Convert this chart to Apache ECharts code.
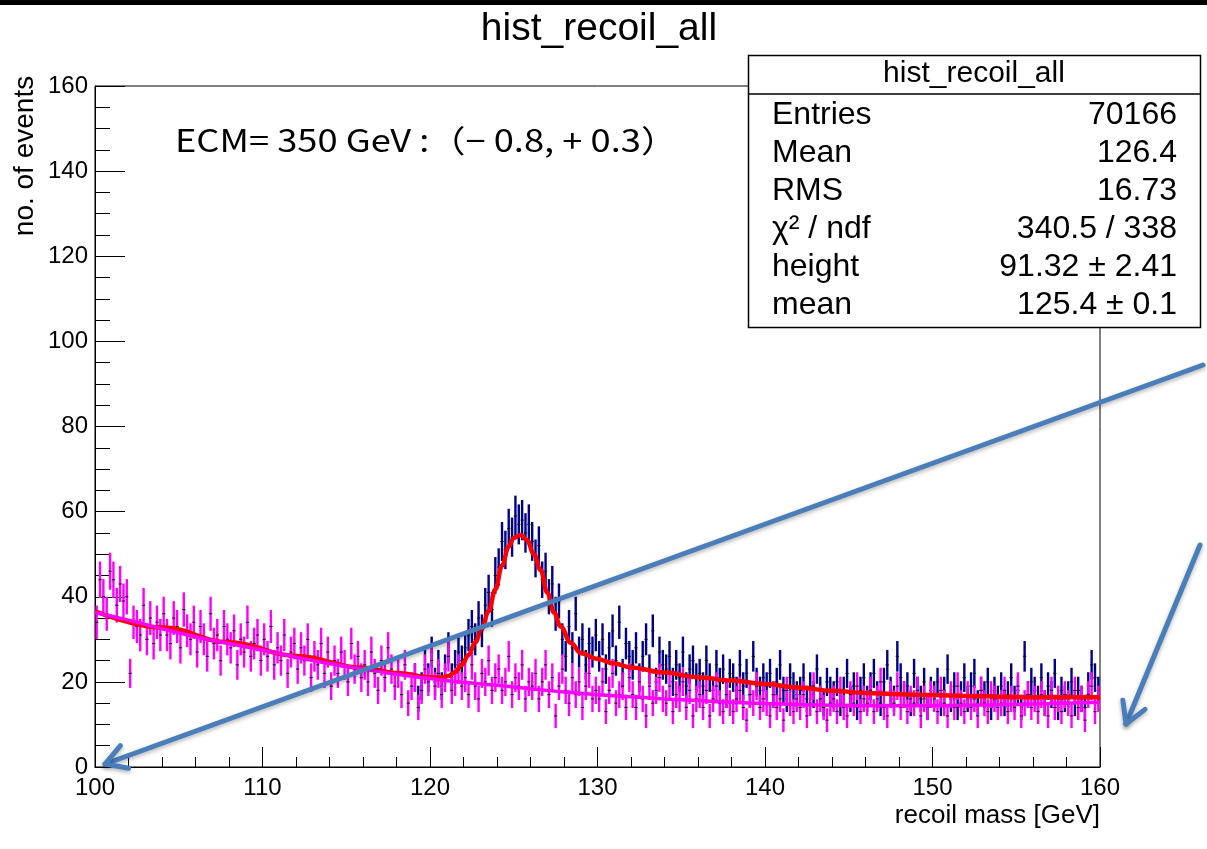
<!DOCTYPE html>
<html>
<head>
<meta charset="utf-8">
<style>html,body{margin:0;padding:0;background:#fff;}#chart{width:1207px;height:849px;}</style>
<script src="https://cdn.jsdelivr.net/npm/echarts@6/dist/echarts.min.js"></script>
</head>
<body>
<div id="chart"></div>
<script>
// ---- data ----
const binWidth = 0.2;
const magentaStart = 100.0;   // background-only histogram (magenta)
const magentaCounts = [
  34,44,40,36,46,44,38,43,39,40,
  22,34,33,31,38,30,35,29,34,31,
  36,31,29,35,33,28,37,32,30,34,
  27,33,30,26,36,29,31,25,33,30,
  28,32,24,30,27,34,26,29,31,25,
  30,26,33,24,28,25,31,22,27,29,
  23,28,25,30,21,26,24,29,22,27,
  19,25,22,27,24,20,29,23,26,21,
  24,20,27,22,18,25,21,28,23,19,
  22,17,24,15,19,21,14,18,23,20,
  25,19,22,17,21,26,18,20,23,19,
  21,17,24,19,16,22,20,25,18,21,
  23,18,20,26,17,21,19,24,16,20,
  19,22,16,20,24,17,21,12,19,23,
  18,15,21,17,20,14,19,22,16,18,
  16,20,13,18,22,15,17,19,14,21,
  17,14,20,16,12,19,15,18,21,16,
  15,19,13,17,16,20,14,18,12,16,
  17,14,18,12,16,19,15,13,17,15,
  13,16,18,14,11,17,15,19,14,16,
  15,12,17,14,16,11,18,15,13,16,
  14,17,12,15,19,13,16,14,11,15,
  16,13,18,14,12,17,15,19,13,16,
  15,18,13,16,20,14,12,17,15,19,
  14,17,13,16,15,18,12,16,14,17,
  16,13,18,15,12,17,14,19,15,13,
  17,14,16,12,18,15,13,17,16,14,
  15,18,13,16,14,19,12,15,17,14,
  16,13,17,15,12,18,14,16,13,17,
  15,12,18,14,16,11,17,19,13,16
];
const blueStart = 119.0;      // signal + background histogram (navy)
const blueCounts = [
  21,16,19,24,21,
  27,20,24,19,23,28,21,24,27,25,
  28,31,33,30,35,32,38,41,37,45,
  47,53,51,56,54,59,57,58,55,57,
  53,49,52,44,46,40,43,36,39,30,
  26,33,28,36,27,30,24,29,27,31,
  26,30,23,28,32,25,34,22,29,26,
  24,28,21,26,30,23,32,20,27,24,
  23,26,20,24,21,27,19,23,25,21,
  22,19,25,21,18,24,20,23,17,22,
  21,18,24,19,22,17,26,20,18,21,
  19,22,17,20,24,18,16,21,19,17,
  18,21,16,19,17,23,18,15,20,18,
  17,20,15,18,22,16,19,14,18,21,
  16,19,22,17,15,20,24,18,16,26,
  21,17,19,15,22,18,16,20,14,18,
  17,20,15,18,23,16,19,14,17,21,
  16,19,22,15,18,17,20,14,18,16,
  19,15,17,21,16,18,14,26,17,20,
  18,16,21,15,19,17,22,14,18,16,
  17,20,15,18,16,14,19,24,21,18
];
// background fit (magenta curve)
const bgFitX = [100,102,104,106,108,110,112,114,116,118,120,122,124,126,128,130,132,134,136,138,140,142,144,146,148,150,152,154,156,158,160];
const bgFitY = [36.3,34.5,32.5,30.6,29.0,27.5,25.8,24.3,23.0,21.8,20.8,19.9,19.2,18.4,17.6,17.0,16.5,16.0,15.6,15.2,14.9,14.7,14.5,14.4,14.4,14.4,14.5,14.6,14.8,15.0,15.2];
// signal + background fit (red curve)
const sigFitX = [100,104,108,112,116,118,120,120.6,121.1,121.5,121.9,122.3,122.7,123.1,123.5,123.9,124.3,124.7,125.0,125.4,125.8,126.2,126.6,127.0,127.4,127.8,128.4,129,130,131,132,134,136,138,140,142,144,146,148,150,152,154,156,158,160];
const sigFitY = [36.6,32.8,29.3,26.1,23.3,22.1,21.1,21.0,21.4,22.3,24.0,26.3,29.3,32.6,36.6,41.7,47.3,51.8,53.8,54.5,53.3,50.0,46.3,41.0,36.3,33.0,29.2,26.8,25.4,24.3,23.4,22.2,21.1,20.3,19.5,18.7,17.9,17.4,17.1,16.9,16.7,16.5,16.4,16.4,16.4];
// axis ticks
const xTicks = {min:100, max:160, step:10};
const yTicks = {min:0, max:160, step:20};
// stats box
const statsTitle = 'hist_recoil_all';
const statsRows = [
  ['Entries','70166'],
  ['Mean','126.4'],
  ['RMS','16.73'],
  ['\u03C7\u00B2 / ndf','340.5 / 338'],
  ['height','91.32 \u00B1 2.41'],
  ['mean','125.4 \u00B1 0.1']
];

// ---- build ----
function errOf(v){ return 0.45*Math.sqrt(v) + 1.3; }
function histData(start, counts){
  return counts.map((v,i)=>[start + binWidth*(i+0.5), v, errOf(v)]);
}
function zipXY(xs, ys){ return xs.map((x,i)=>[x, ys[i]]); }

function errRender(color){
  return function(params, api){
    const x = api.value(0), y = api.value(1), e = api.value(2);
    const c = api.coord([x,y]);
    const t = api.coord([x,y+e]);
    const b = api.coord([x,y-e]);
    const l = api.coord([x-binWidth/2,y]);
    const r = api.coord([x+binWidth/2,y]);
    return {type:'group', children:[
      {type:'line', shape:{x1:c[0],y1:t[1],x2:c[0],y2:b[1]}, style:{stroke:color,lineWidth:2.4}},
      {type:'line', shape:{x1:l[0],y1:c[1],x2:r[0],y2:c[1]}, style:{stroke:'#111',lineWidth:1}}
    ]};
  };
}

const FONT = '"Liberation Sans", Arial, Helvetica, sans-serif';
const arrowColor = '#4a7ebb';
function arrow(x1,y1,x2,y2){
  const ang = Math.atan2(y2-y1, x2-x1);
  const L = 24, a = Math.PI/6;
  const p1 = [x2 - L*Math.cos(ang-a), y2 - L*Math.sin(ang-a)];
  const p2 = [x2 - L*Math.cos(ang+a), y2 - L*Math.sin(ang+a)];
  const st = {stroke:arrowColor, lineWidth:5, lineCap:'round', lineJoin:'round', fill:null,
              shadowBlur:4, shadowColor:'rgba(0,0,0,0.3)', shadowOffsetY:2};
  return [
    {type:'line', z:120, shape:{x1:x1,y1:y1,x2:x2,y2:y2}, style:st},
    {type:'polyline', z:120, shape:{points:[p1,[x2,y2],p2]}, style:st}
  ];
}

const graphics = [
  {type:'rect', z:50, shape:{x:0,y:0,width:1207,height:5}, style:{fill:'#000'}},
  {type:'text', z:50, style:{text:'hist_recoil_all', x:599, y:29, font:'39px '+FONT, fill:'#000', textAlign:'center', textVerticalAlign:'middle'}},
  {type:'text', z:50, rotation:Math.PI/2, x:25, y:156, style:{text:'no. of events', x:0, y:0, font:'28px '+FONT, fill:'#000', textAlign:'center', textVerticalAlign:'middle'}},
  {type:'text', z:50, x:175, y:140, scaleX:1.17, style:{text:'ECM= 350 GeV :\uFF08\u2212 0.8, + 0.3\uFF09', x:0, y:0, font:'31px "Noto Sans CJK JP", sans-serif', fill:'#000', textAlign:'left', textVerticalAlign:'middle'}},
  {type:'rect', z:100, shape:{x:748.5,y:55.5,width:452,height:272}, style:{fill:'#fff', stroke:'#000', lineWidth:1.5}},
  {type:'line', z:101, shape:{x1:748.5,y1:94,x2:1200.5,y2:94}, style:{stroke:'#000', lineWidth:1.5}},
  {type:'text', z:101, style:{text:statsTitle, x:974, y:74, font:'30px '+FONT, fill:'#000', textAlign:'center', textVerticalAlign:'middle'}}
];
statsRows.forEach((row,i)=>{
  const cy = 115 + 38*i;
  graphics.push({type:'text', z:101, style:{text:row[0], x:772, y:cy, font:'32px '+FONT, fill:'#000', textAlign:'left', textVerticalAlign:'middle'}});
  graphics.push({type:'text', z:101, style:{text:row[1], x:1177, y:cy, font:'32px '+FONT, fill:'#000', textAlign:'right', textVerticalAlign:'middle'}});
});
arrow(1203,365,105,764).forEach(g=>graphics.push(g));
arrow(1200,545,1126,724).forEach(g=>graphics.push(g));

const chart = echarts.init(document.getElementById('chart'), null, {renderer:'canvas'});
chart.setOption({
  backgroundColor:'#fff',
  animation:false,
  grid:{left:95, right:107, top:86, bottom:82, show:true, borderColor:'#000', borderWidth:1, backgroundColor:'transparent'},
  xAxis:{
    type:'value', min:xTicks.min, max:xTicks.max, interval:xTicks.step,
    name:'recoil mass [GeV]', nameLocation:'end', nameGap:0,
    nameTextStyle:{fontFamily:FONT, fontSize:26, color:'#000', align:'right', verticalAlign:'top', padding:[36,0,0,0]},
    axisLine:{show:true, lineStyle:{color:'#000', width:1}},
    axisTick:{show:true, inside:true, length:20, lineStyle:{color:'#000', width:1}},
    minorTick:{show:true, splitNumber:5, length:10, lineStyle:{color:'#000', width:1}},
    splitLine:{show:false}, minorSplitLine:{show:false},
    axisLabel:{fontFamily:FONT, fontSize:24, color:'#000', margin:9, showMinLabel:true, showMaxLabel:true}
  },
  yAxis:{
    type:'value', min:yTicks.min, max:yTicks.max, interval:yTicks.step,
    axisLine:{show:true, lineStyle:{color:'#000', width:1}},
    axisTick:{show:true, inside:true, length:30, lineStyle:{color:'#000', width:1}},
    minorTick:{show:true, splitNumber:4, length:15, lineStyle:{color:'#000', width:1}},
    splitLine:{show:false}, minorSplitLine:{show:false},
    axisLabel:{fontFamily:FONT, fontSize:24, color:'#000', margin:7, showMinLabel:true, showMaxLabel:true}
  },
  graphic:graphics,
  series:[
    {type:'custom', name:'all', renderItem:errRender('#00008b'), data:histData(blueStart, blueCounts), encode:{x:0,y:1}, clip:true, z:2, silent:true},
    {type:'custom', name:'bg', renderItem:errRender('#ff00ff'), data:histData(magentaStart, magentaCounts), encode:{x:0,y:1}, clip:true, z:3, silent:true},
    {type:'line', name:'fit', data:zipXY(sigFitX, sigFitY), smooth:0.4, smoothMonotone:'x', showSymbol:false, clip:true, z:4,
      lineStyle:{color:'#ff0000', width:4.5}},
    {type:'line', name:'bgfit', data:zipXY(bgFitX, bgFitY), smooth:0.35, showSymbol:false, clip:true, z:5,
      lineStyle:{color:'#ff00ff', width:3.5}}
  ]
});
</script>
</body>
</html>
